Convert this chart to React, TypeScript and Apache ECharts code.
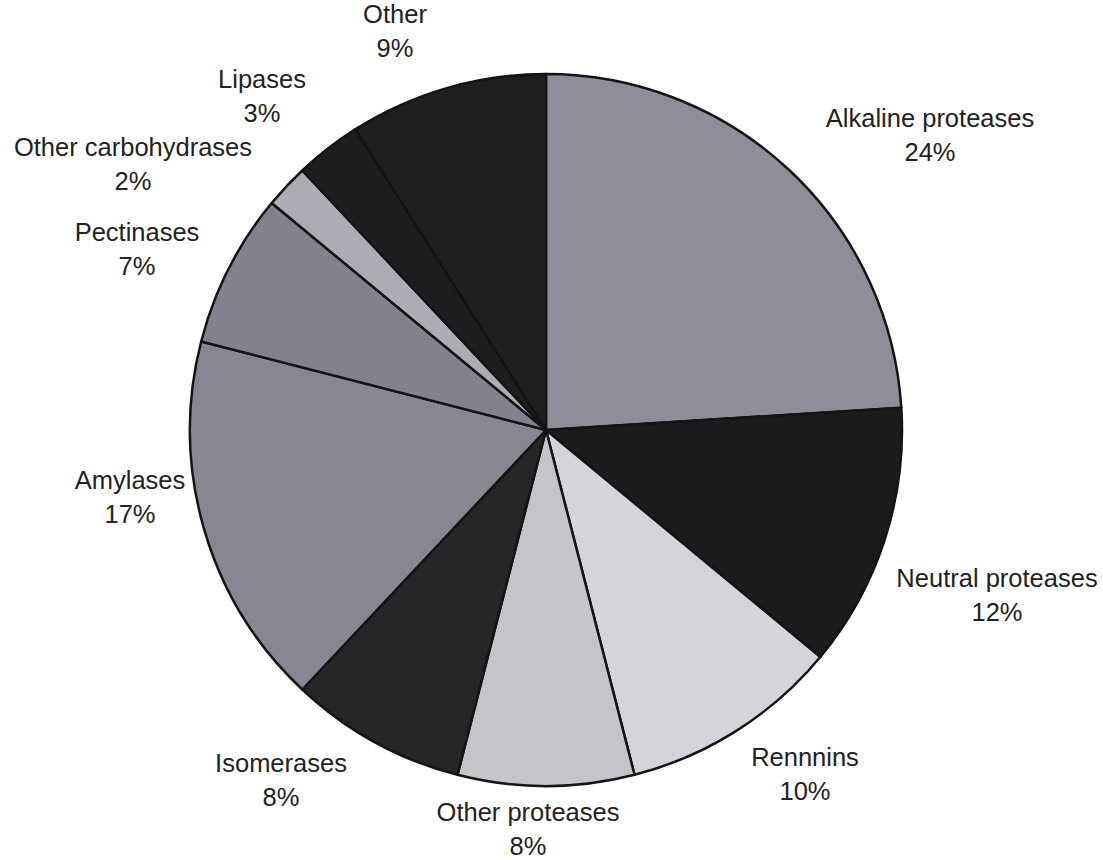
import React, { useEffect, useRef } from "react";
import * as echarts from "echarts";

const categories = [
  "Alkaline proteases",
  "Neutral proteases",
  "Rennnins",
  "Other proteases",
  "Isomerases",
  "Amylases",
  "Pectinases",
  "Other carbohydrases",
  "Lipases",
  "Other",
];
const shares = [24, 12, 10, 8, 8, 17, 7, 2, 3, 9];
const sliceColors = [
  "#8e8e99",
  "#1c1c1e",
  "#d4d4da",
  "#c4c4c9",
  "#262628",
  "#878791",
  "#82828c",
  "#acacb4",
  "#1e1e20",
  "#1f1f21",
];
// label centres (layout only)
const labelCenters: [number, number][] = [
  [930, 135],
  [997, 595],
  [805, 774],
  [528, 829],
  [281, 780],
  [130, 497],
  [137, 249],
  [133, 164],
  [262, 96],
  [395, 31],
];

export default function App() {
  const ref = useRef<HTMLDivElement>(null);
  useEffect(() => {
    document.body.style.margin = "0";
    const chart = echarts.init(ref.current!, null, { renderer: "svg" });
    chart.setOption({
      animation: false,
      backgroundColor: "#ffffff",
      series: [
        {
          type: "pie",
          center: [546, 430],
          radius: 356,
          startAngle: 90,
          clockwise: true,
          avoidLabelOverlap: false,
          percentPrecision: 0,
          data: categories.map((n, i) => ({
            name: n,
            value: shares[i],
            itemStyle: { color: sliceColors[i] },
          })),
          itemStyle: { borderColor: "#141414", borderWidth: 2.5 },
          label: {
            show: true,
            position: "outside",
            formatter: "{b}\n{d}%",
            fontFamily: "'Liberation Sans', Arial, sans-serif",
            fontSize: 25.5,
            lineHeight: 34,
            color: "#222222",
            align: "center",
          },
          labelLine: { show: false },
          labelLayout: (p: any) => {
            const [x, y] = labelCenters[p.dataIndex];
            return { x, y, align: "center", verticalAlign: "middle" };
          },
          emphasis: { disabled: true },
        },
      ],
    });
    return () => chart.dispose();
  }, []);
  return <div ref={ref} style={{ width: 1103, height: 860 }} />;
}
